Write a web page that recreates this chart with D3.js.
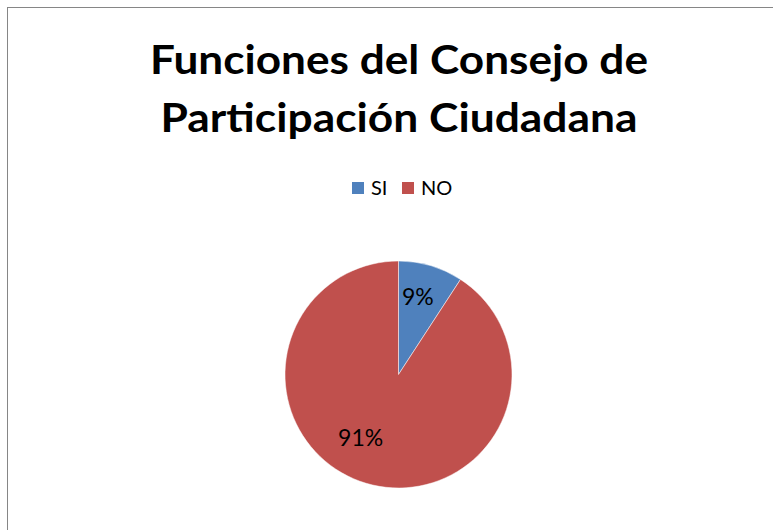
<!DOCTYPE html>
<html>
<head>
<meta charset="utf-8">
<script src="https://cdn.jsdelivr.net/npm/d3@7"></script>
<style>
  html, body { margin: 0; padding: 0; background: #fff; }
  svg { display: block; }
</style>
</head>
<body>
<svg id="chart" width="773" height="530"></svg>
<script>
// Chart data
const categories = ["SI", "NO"];
const values = [9.2, 90.8];
const colors = ["#4f81bd", "#c0504d"];
const titleLines = ["Funciones del Consejo de", "Participación Ciudadana"];

const width = 773, height = 530;
const font = "Lato, 'Open Sans', sans-serif";

const svg = d3.select("#chart");

// chart area border (right and bottom run off the picture)
svg.append("rect")
  .attr("x", 7.5).attr("y", 7.5)
  .attr("width", width + 10).attr("height", height + 10)
  .attr("fill", "none")
  .attr("stroke", "#868686")
  .attr("stroke-width", 1);

// Title - Calibri is wider than Lato, so stretch a little to the same width
const titleWidths = [498, 477];
svg.append("g").selectAll("text")
  .data(titleLines)
  .join("text")
  .attr("x", 399)
  .attr("y", (d, i) => 73.5 + i * 58)
  .attr("text-anchor", "middle")
  .attr("font-family", font)
  .attr("font-weight", "bold")
  .attr("font-size", "40px")
  .attr("fill", "#000")
  .attr("textLength", (d, i) => titleWidths[i])
  .attr("lengthAdjust", "spacingAndGlyphs")
  .text(d => d);

// Legend
const legend = svg.append("g").attr("transform", "translate(352, 182)");
const legendX = d3.scalePoint().domain(categories).range([0, 50]);
const item = legend.selectAll("g")
  .data(categories)
  .join("g")
  .attr("transform", d => `translate(${legendX(d)}, 0)`);
item.append("rect")
  .attr("width", 12).attr("height", 12)
  .attr("fill", (d, i) => colors[i]);
item.append("text")
  .attr("x", 19).attr("y", 12.5)
  .attr("font-family", font)
  .attr("font-size", "20px")
  .attr("fill", "#000")
  .text(d => d);

// Pie
const cx = 398.5, cy = 374.5, radius = 113.5;
const pie = d3.pie().sort(null).value(d => d.value);
const data = categories.map((c, i) => ({ name: c, value: values[i], color: colors[i] }));
const arcs = pie(data);
const total = d3.sum(values);

const arc = d3.arc().innerRadius(0).outerRadius(radius);

// "best fit" label placement: distance from centre and angle shift per slice
const labelDist = [0.71, 0.65];
const labelShift = [-2.7, 14.3];
function labelPos(d, i) {
  const a = (d.startAngle + d.endAngle) / 2 + labelShift[i] * Math.PI / 180;
  const r = radius * labelDist[i];
  return [r * Math.sin(a), -r * Math.cos(a)];
}

const g = svg.append("g").attr("transform", `translate(${cx}, ${cy})`);
g.selectAll("path")
  .data(arcs)
  .join("path")
  .attr("d", arc)
  .attr("fill", d => d.data.color)
  .attr("stroke", "#fff")
  .attr("stroke-width", 0.5);

g.selectAll("text")
  .data(arcs)
  .join("text")
  .attr("transform", (d, i) => `translate(${labelPos(d, i)})`)
  .attr("text-anchor", "middle")
  .attr("dy", "0.36em")
  .attr("font-family", font)
  .attr("font-size", "23px")
  .attr("fill", "#000")
  .text(d => Math.round(d.data.value / total * 100) + "%");
</script>
</body>
</html>
